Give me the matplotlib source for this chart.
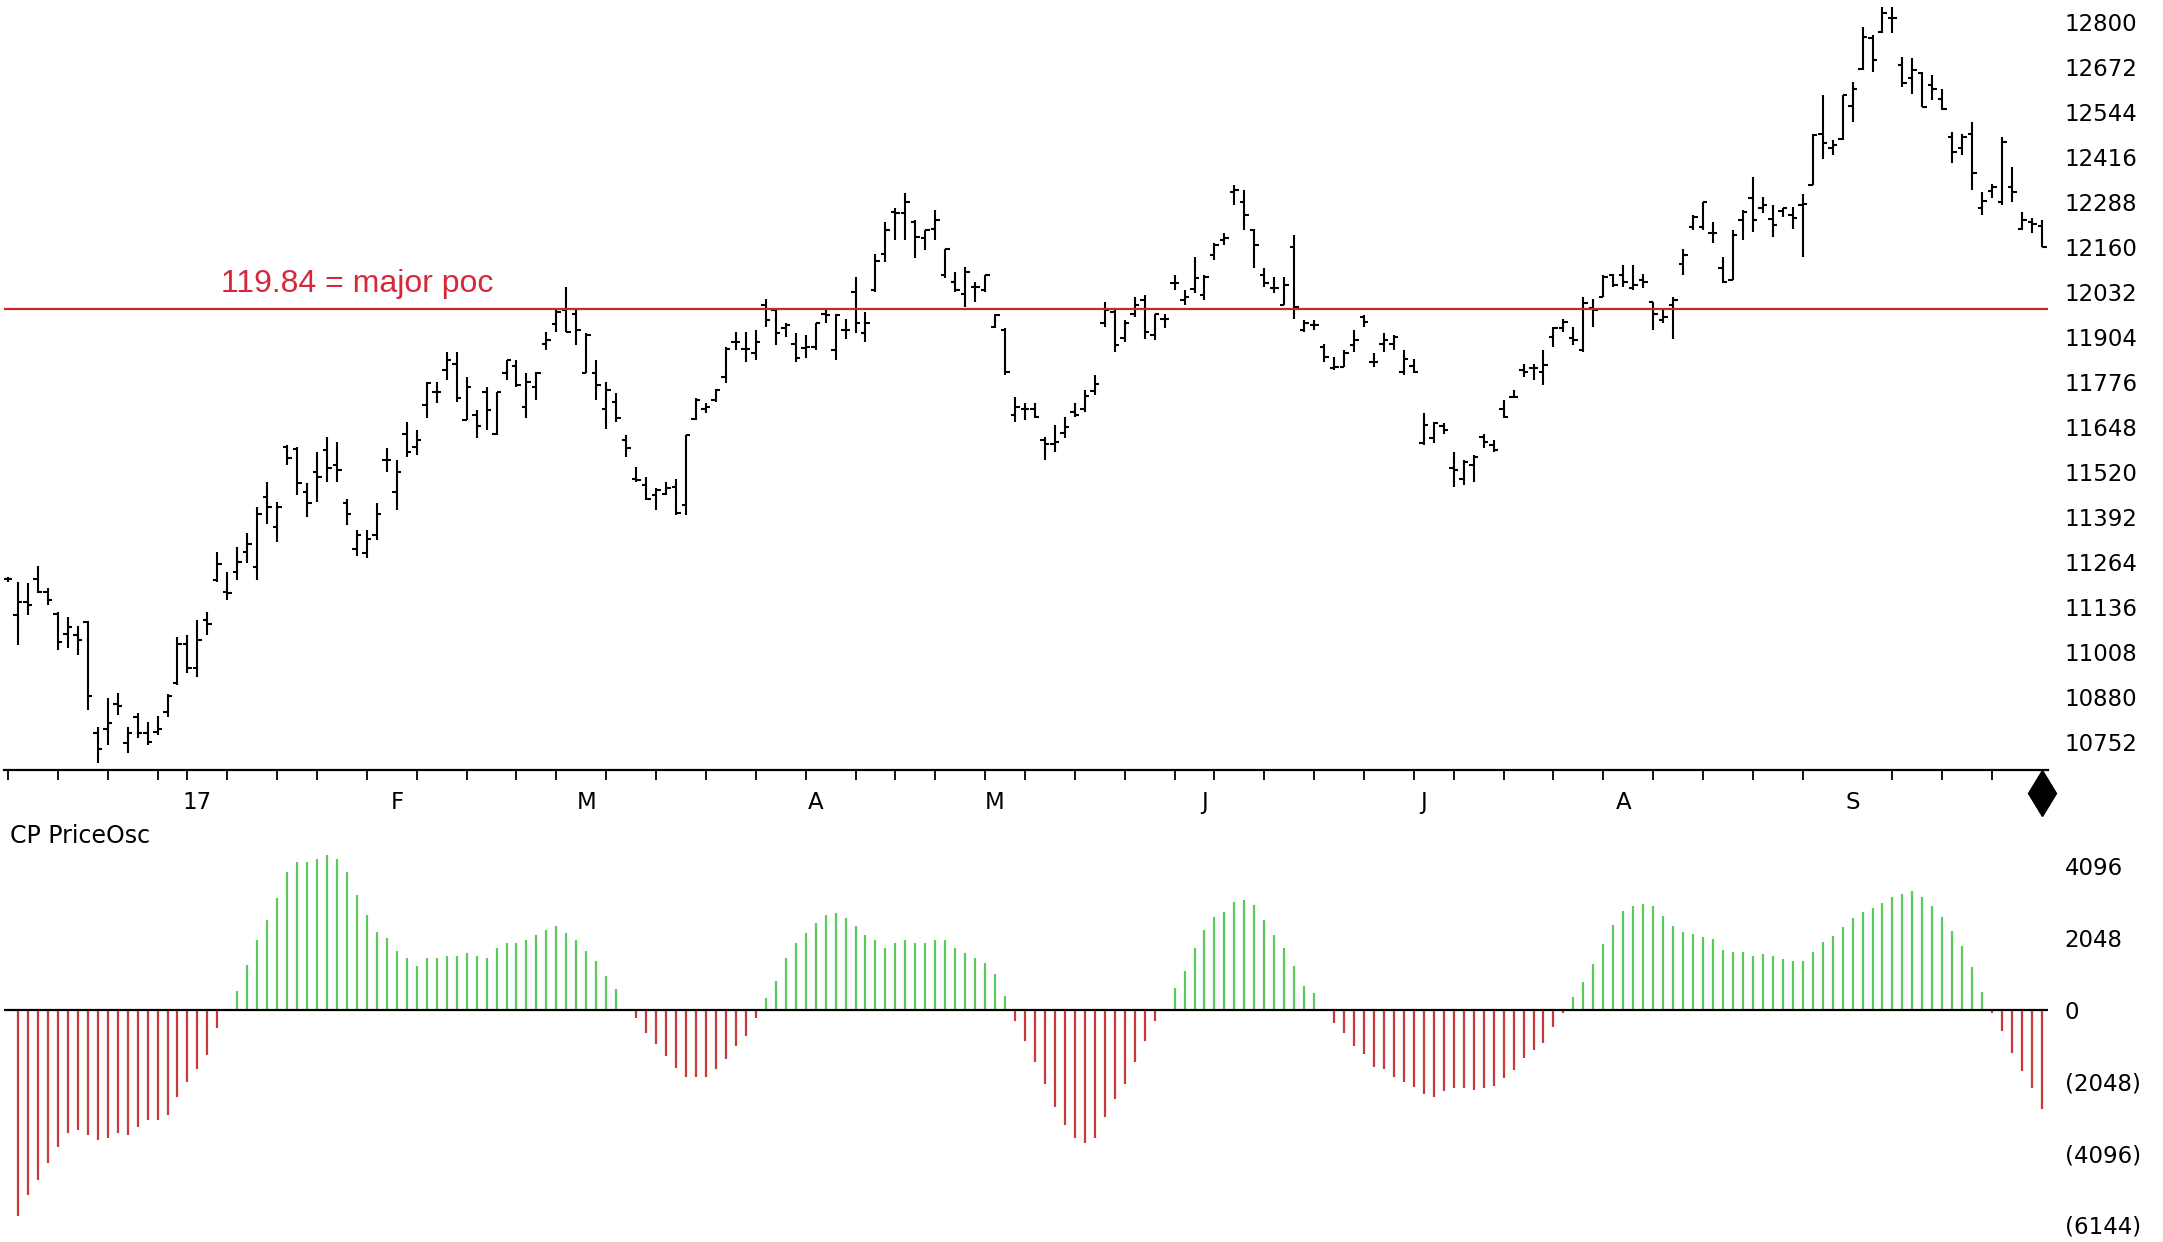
import numpy as np
import matplotlib
matplotlib.use("Agg")
import matplotlib.pyplot as plt

# ---------------- data ----------------
opens = [11214, 11113, 11151, 11214, 11179, 11117, 11058, 11056, 11094, 10778,
         10790, 10861, 10748, 10824, 10778, 10781, 10838, 10920, 11030, 10962,
         11098, 11212, 11179, 11236, 11293, 11250, 11449, 11364, 11590, 11585,
         11463, 11520, 11582, 11540, 11430, 11300, 11290, 11340, 11553, 11463,
         11629, 11590, 11710, 11748, 11810, 11828, 11667, 11681, 11748, 11629,
         11800, 11820, 11705, 11760, 11885, 11940, 11980, 11970, 11800, 11800,
         11700, 11720, 11610, 11501, 11482, 11454, 11458, 11478, 11425, 11670,
         11700, 11725, 11790, 11890, 11870, 11857, 11994, 11980, 11930, 11885,
         11871, 11876, 11970, 11866, 11923, 12032, 11914, 12037, 12141, 12260,
         12255, 12231, 12184, 12212, 12080, 12061, 12027, 12046, 12037, 11933,
         11923, 11681, 11700, 11700, 11610, 11600, 11630, 11690, 11700, 11750,
         11942, 11975, 11900, 11970, 12010, 11909, 11956, 12056, 12010, 12040,
         12023, 12136, 12180, 12316, 12288, 12208, 12080, 12042, 11994, 12160,
         11923, 11937, 11876, 11814, 11819, 11880, 11961, 11833, 11885, 11885,
         11805, 11820, 11601, 11615, 11650, 11530, 11501, 11539, 11620, 11595,
         11700, 11734, 11809, 11814, 11805, 11904, 11930, 11900, 11866, 11985,
         12018, 12080, 12080, 12042, 12065, 12004, 11952, 11994, 12110, 12217,
         12217, 12200, 12099, 12065, 12236, 12300, 12270, 12240, 12262, 12250,
         12280, 12336, 12480, 12440, 12468, 12560, 12667, 12753, 12772, 12810,
         12677, 12640, 12653, 12620, 12580, 12473, 12440, 12480, 12270, 12320,
         12288, 12330, 12212, 12230, 12220]
highs = [11222, 11207, 11203, 11252, 11189, 11122, 11108, 11081, 11096, 10795,
         10876, 10890, 10795, 10833, 10809, 10825, 10888, 11051, 11056, 11098,
         11122, 11293, 11236, 11307, 11345, 11421, 11492, 11435, 11596, 11591,
         11487, 11577, 11620, 11605, 11444, 11354, 11354, 11430, 11587, 11554,
         11663, 11639, 11776, 11776, 11862, 11862, 11790, 11696, 11762, 11748,
         11838, 11838, 11800, 11805, 11918, 11980, 12046, 11980, 11914, 11838,
         11776, 11743, 11625, 11534, 11506, 11473, 11492, 11501, 11625, 11729,
         11716, 11757, 11875, 11918, 11918, 11923, 12013, 11985, 11942, 11914,
         11909, 11942, 11985, 11970, 11956, 12075, 11975, 12141, 12231, 12269,
         12312, 12236, 12208, 12264, 12155, 12089, 12103, 12061, 12080, 11970,
         11928, 11733, 11715, 11715, 11620, 11653, 11677, 11715, 11753, 11795,
         12004, 11980, 11952, 12018, 12023, 11970, 11970, 12080, 12037, 12132,
         12080, 12170, 12198, 12335, 12321, 12212, 12099, 12075, 12075, 12193,
         11952, 11952, 11885, 11847, 11866, 11923, 11966, 11857, 11914, 11909,
         11866, 11842, 11686, 11662, 11658, 11577, 11553, 11568, 11629, 11610,
         11724, 11753, 11828, 11828, 11866, 11933, 11956, 11933, 12018, 12013,
         12080, 12084, 12108, 12108, 12084, 12004, 11985, 12018, 12155, 12250,
         12288, 12231, 12132, 12208, 12264, 12359, 12302, 12279, 12269, 12274,
         12310, 12482, 12591, 12464, 12591, 12629, 12786, 12762, 12843, 12843,
         12700, 12696, 12658, 12648, 12610, 12487, 12482, 12516, 12317, 12340,
         12473, 12388, 12260, 12241, 12236]
lows = [11206, 11027, 11113, 11174, 11141, 11013, 11018, 10999, 10843, 10693,
        10743, 10828, 10721, 10762, 10743, 10771, 10822, 10914, 10949, 10937,
        11056, 11207, 11155, 11212, 11260, 11212, 11373, 11321, 11540, 11454,
        11392, 11435, 11492, 11492, 11369, 11280, 11274, 11326, 11520, 11411,
        11563, 11568, 11672, 11715, 11781, 11719, 11667, 11615, 11639, 11625,
        11781, 11762, 11672, 11724, 11866, 11918, 11918, 11881, 11800, 11724,
        11643, 11663, 11563, 11492, 11440, 11411, 11454, 11397, 11397, 11667,
        11686, 11719, 11774, 11866, 11833, 11838, 11933, 11881, 11904, 11833,
        11843, 11866, 11942, 11838, 11899, 11914, 11890, 12032, 12118, 12179,
        12179, 12127, 12151, 12179, 12070, 12032, 11990, 12004, 12032, 11928,
        11795, 11663, 11667, 11672, 11553, 11577, 11615, 11677, 11690, 11738,
        11933, 11861, 11890, 11961, 11899, 11895, 11928, 12037, 11994, 12028,
        12009, 12122, 12165, 12279, 12208, 12099, 12046, 12028, 11994, 11956,
        11918, 11923, 11833, 11809, 11819, 11861, 11933, 11819, 11861, 11866,
        11795, 11800, 11596, 11601, 11629, 11478, 11482, 11492, 11587, 11577,
        11672, 11729, 11790, 11781, 11767, 11876, 11918, 11880, 11861, 11933,
        12018, 12046, 12046, 12037, 12042, 11923, 11942, 11899, 12080, 12208,
        12208, 12170, 12056, 12065, 12179, 12203, 12255, 12189, 12245, 12210,
        12130, 12336, 12411, 12421, 12464, 12516, 12663, 12658, 12767, 12767,
        12615, 12596, 12558, 12577, 12549, 12397, 12421, 12321, 12250, 12298,
        12279, 12288, 12208, 12198, 12160]
closes = [11214, 11151, 11141, 11179, 11155, 11037, 11079, 11043, 10882, 10731,
          10805, 10854, 10776, 10778, 10752, 10788, 10882, 11030, 10962, 11043,
          11087, 11258, 11174, 11264, 11316, 11400, 11421, 11421, 11560, 11487,
          11430, 11506, 11530, 11525, 11400, 11340, 11330, 11400, 11553, 11520,
          11577, 11610, 11773, 11748, 11838, 11729, 11762, 11650, 11696, 11748,
          11838, 11767, 11776, 11800, 11895, 11975, 11918, 11923, 11909, 11767,
          11752, 11672, 11587, 11496, 11444, 11468, 11473, 11402, 11625, 11725,
          11705, 11752, 11870, 11890, 11870, 11890, 11952, 11914, 11937, 11843,
          11876, 11942, 11966, 11966, 11923, 11942, 11942, 12120, 12208, 12255,
          12288, 12189, 12208, 12236, 12153, 12037, 12089, 12046, 12080, 11966,
          11805, 11705, 11700, 11677, 11600, 11605, 11648, 11681, 11735, 11770,
          11980, 11880, 11942, 11994, 11918, 11970, 11956, 12056, 12018, 12070,
          12075, 12165, 12184, 12321, 12250, 12165, 12056, 12042, 12051, 11990,
          11942, 11937, 11847, 11819, 11857, 11895, 11947, 11833, 11895, 11904,
          11842, 11805, 11653, 11658, 11640, 11525, 11548, 11563, 11605, 11582,
          11677, 11734, 11805, 11814, 11823, 11928, 11947, 11895, 12000, 11980,
          12075, 12051, 12061, 12051, 12061, 11970, 11960, 12010, 12136, 12245,
          12288, 12198, 12060, 12193, 12260, 12236, 12279, 12222, 12269, 12241,
          12283, 12478, 12454, 12449, 12591, 12610, 12757, 12691, 12824, 12810,
          12625, 12662, 12558, 12610, 12553, 12430, 12473, 12369, 12290, 12330,
          12459, 12317, 12236, 12225, 12160]

price_osc = [0, -5902, -5294, -4859, -4376, -3912, -3507, -3429, -3574, -3719,
             -3651, -3507, -3584, -3333, -3140, -3140, -3004, -2492, -2058, -1690,
             -1285, -531, 0, 531, 1275, 1980, 2560, 3207, 3932, 4221,
             4221, 4299, 4434, 4299, 3932, 3275, 2695, 2212, 2048, 1690,
             1468, 1256, 1488, 1488, 1546, 1546, 1613, 1546, 1488, 1758,
             1903, 1903, 1980, 2125, 2270, 2405, 2193, 1980, 1690, 1401,
             966, 599, 0, -242, -676, -966, -1333, -1671, -1913, -1913,
             -1913, -1690, -1401, -1043, -753, -242, 328, 821, 1488, 1903,
             2193, 2483, 2695, 2772, 2628, 2405, 2125, 1980, 1758, 1903,
             1980, 1903, 1903, 1980, 1980, 1758, 1633, 1468, 1323, 1034,
             386, -319, -898, -1478, -2125, -2782, -3294, -3651, -3796, -3651,
             -3072, -2560, -2125, -1478, -898, -319, 0, 628, 1111, 1777,
             2270, 2657, 2792, 3082, 3140, 2995, 2560, 2125, 1758, 1256,
             676, 473, 0, -386, -676, -1043, -1256, -1623, -1690, -1913,
             -2058, -2203, -2415, -2492, -2330, -2241, -2241, -2299, -2241, -2174,
             -1951, -1719, -1372, -1159, -947, -502, -77, 357, 792, 1304,
             1884, 2434, 2821, 2975, 3014, 2975, 2686, 2396, 2222, 2154,
             2077, 2009, 1720, 1662, 1642, 1546, 1594, 1546, 1449, 1381,
             1381, 1662, 1951, 2106, 2367, 2608, 2801, 2898, 3043, 3236,
             3313, 3400, 3236, 2975, 2657, 2241, 1816, 1227, 502, -77,
             -599, -1237, -1739, -2241, -2821]

poc_level = 11984
poc_label = "119.84 = major poc"
price_ticks = [12800, 12672, 12544, 12416, 12288, 12160, 12032, 11904, 11776,
               11648, 11520, 11392, 11264, 11136, 11008, 10880, 10752]
osc_ticks = [4096, 2048, 0, -2048, -4096, -6144]
osc_tick_labels = ["4096", "2048", "0", "(2048)", "(4096)", "(6144)"]
month_idx = [19, 39, 58, 81, 99, 120, 142, 162, 185]
month_labels = ["17", "F", "M", "A", "M", "J", "J", "A", "S"]
week_idx = [0, 5, 10, 15, 18, 19, 22, 27, 31, 36, 39, 41, 46, 51, 55, 58, 60, 65,
            70, 75, 80, 81, 85, 89, 93, 98, 99, 102, 107, 112, 117, 120, 121, 126,
            131, 136, 141, 142, 145, 150, 155, 160, 162, 165, 170, 175, 180, 185,
            189, 194, 199, 204]

# ---------------- figure ----------------
W, H = 2163, 1242
fig = plt.figure(figsize=(W / 100, H / 100), dpi=100)
fig.patch.set_facecolor("white")


def px_axes(x0, y0, x1, y1):
    return fig.add_axes([x0 / W, 1 - y1 / H, (x1 - x0) / W, (y1 - y0) / H])


n = len(opens)
x = np.arange(n)
xl = (-0.4, 204.6)

# ---- price panel ----
ax = px_axes(4, 0, 2048, 770)
ax.set_xlim(*xl)
ax.set_ylim(10672, 12862)
lw = 1.5
ax.vlines(x, lows, highs, color="black", lw=lw)
ax.hlines(opens, x - 0.45, x, color="black", lw=lw)
ax.hlines(closes, x, x + 0.45, color="black", lw=lw)
ax.axhline(poc_level, color="#c8282d", lw=1.6)
ax.text(21.4, poc_level + 70, poc_label, color="#d6283a", fontsize=23,
        family="Liberation Sans", va="center", ha="left")

for s in ["top", "left", "right"]:
    ax.spines[s].set_visible(False)
ax.spines["bottom"].set_linewidth(1.6)
ax.yaxis.tick_right()
ax.set_yticks(price_ticks)
ax.set_yticklabels([str(t) for t in price_ticks])
ax.tick_params(axis="y", length=0, pad=12, labelsize=16.5)
ax.set_xticks(month_idx)
ax.set_xticklabels(month_labels)
ax.tick_params(axis="x", which="major", length=0, pad=15, labelsize=16.5)
ax.set_xticks(week_idx, minor=True)
ax.tick_params(axis="x", which="minor", length=7, width=1.3, direction="out")
ax.plot([204], [10606], marker="d", markersize=23, color="black", clip_on=False)

# ---- oscillator panel ----
ax2 = px_axes(4, 820, 2048, 1242)
ax2.set_xlim(*xl)
ax2.set_ylim(-6631, 5421)
osc = np.array(price_osc)
up = osc > 0
dn = osc < 0
ax2.vlines(x[up], 0, osc[up], color="#5cc95c", lw=1.6)
ax2.vlines(x[dn], osc[dn], 0, color="#c83a3a", lw=1.6)
ax2.axhline(0, color="black", lw=1.6)
for s in ["top", "left", "right", "bottom"]:
    ax2.spines[s].set_visible(False)
ax2.set_xticks([])
ax2.yaxis.tick_right()
ax2.set_yticks(osc_ticks)
ax2.set_yticklabels(osc_tick_labels)
ax2.tick_params(axis="y", length=0, pad=12, labelsize=16.5)

fig.text(10 / W, 1 - 836 / H, "CP PriceOsc", fontsize=17, family="DejaVu Sans",
         va="center", ha="left")

fig.savefig("out.png", dpi=100, facecolor="white")
